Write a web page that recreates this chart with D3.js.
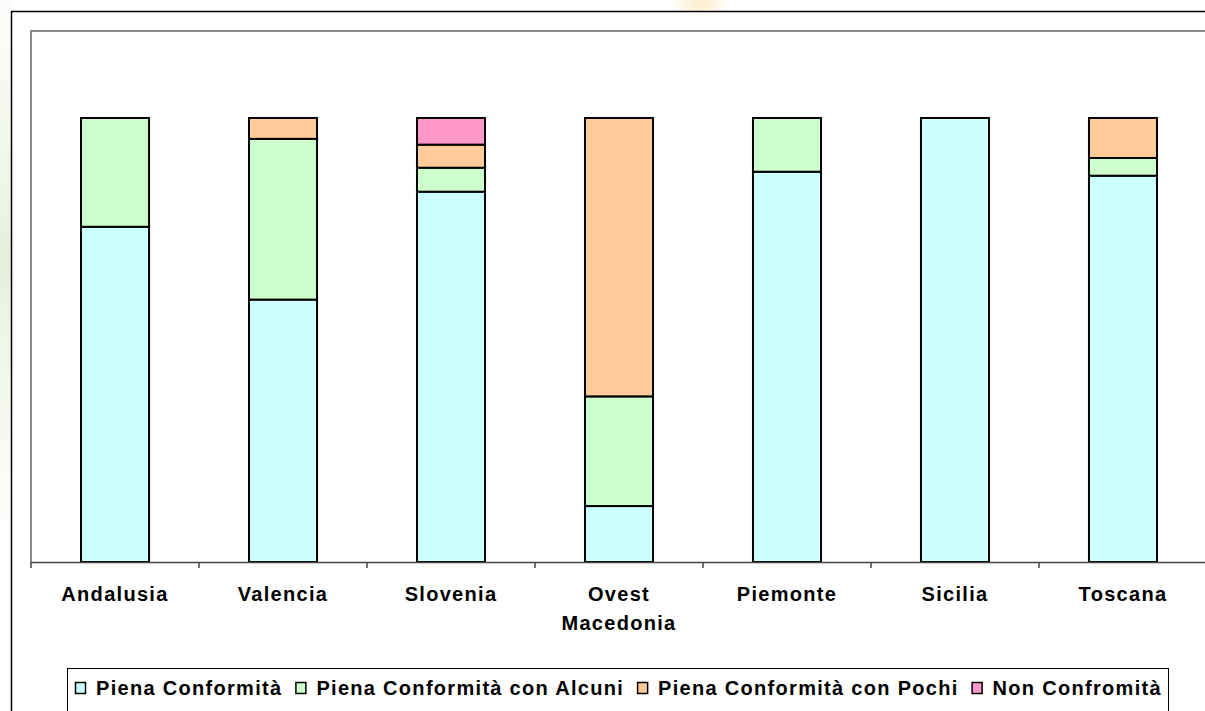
<!DOCTYPE html>
<html>
<head>
<meta charset="utf-8">
<script src="https://cdn.jsdelivr.net/npm/d3@7"></script>
<style>
  body { margin: 0; background: #fff; }
  text { font-family: "Liberation Sans", Arial, sans-serif; font-weight: bold; }
</style>
</head>
<body>
<div id="chart-area"></div>
<script>
// regioni e quote (frazione del totale)
const regions = ['Andalusia', 'Valencia', 'Slovenia', 'Ovest Macedonia', 'Piemonte', 'Sicilia', 'Toscana']
const seriesNames = ['Piena Conformità', 'Piena Conformità con Alcuni', 'Piena Conformità con Pochi', 'Non Confromità']
const piena   = [0.755, 0.591, 0.834, 0.126, 0.879, 1.000, 0.870]
const alcuni  = [0.245, 0.362, 0.054, 0.247, 0.121, 0.000, 0.040]
const pochi   = [0.000, 0.047, 0.052, 0.627, 0.000, 0.000, 0.090]
const nonConf = [0.000, 0.000, 0.060, 0.000, 0.000, 0.000, 0.000]
const colors = ['#CCFFFF', '#CCFFCC', '#FFCC99', '#FF99CC']

const W = 1205, H = 711
const plot = {left: 31, top: 31, right: 1207, bottom: 562}

const svg = d3.select('#chart-area').append('svg')
  .attr('width', W)
  .attr('height', H)

// faint background watermark
const defs = svg.append('defs')
const rg = defs.append('radialGradient').attr('id', 'blob')
rg.append('stop').attr('offset', '0%').attr('stop-color', '#ffd27a').attr('stop-opacity', 0.4)
rg.append('stop').attr('offset', '100%').attr('stop-color', '#ffd27a').attr('stop-opacity', 0)
const lg = defs.append('linearGradient').attr('id', 'side').attr('x1', 0).attr('x2', 0).attr('y1', 0).attr('y2', 1)
lg.append('stop').attr('offset', '0%').attr('stop-color', '#f1f6ea').attr('stop-opacity', 0.2)
lg.append('stop').attr('offset', '50%').attr('stop-color', '#e6f0da').attr('stop-opacity', 1)
lg.append('stop').attr('offset', '100%').attr('stop-color', '#f4f8ef').attr('stop-opacity', 0.3)
svg.append('rect').attr('x', 0).attr('y', 0).attr('width', 11).attr('height', 520).attr('fill', 'url(#side)')
svg.append('ellipse').attr('cx', 700).attr('cy', 4).attr('rx', 30).attr('ry', 16).attr('fill', 'url(#blob)')

// chart area
svg.append('rect')
  .attr('x', 11.5).attr('y', 11.5)
  .attr('width', W + 20).attr('height', H + 20)
  .attr('fill', '#fff')
  .attr('stroke', '#000')
  .attr('stroke-width', 1.5)

// plot area border (top + left)
svg.append('path')
  .attr('d', `M${plot.left},${plot.bottom}V${plot.top}H${W + 10}`)
  .attr('fill', 'none')
  .attr('stroke', '#8a8a8a')
  .attr('stroke-width', 2)

const x = d3.scaleBand()
  .domain(regions)
  .range([plot.left, plot.right])
  .paddingInner(0.595)
  .paddingOuter(0.2976)

const y = d3.scaleLinear()
  .domain([0, 1])
  .range([plot.bottom, 118])

const table = regions.map((r, i) => ({
  region: r,
  s0: piena[i], s1: alcuni[i], s2: pochi[i], s3: nonConf[i]
}))
const stack = d3.stack().keys(['s0', 's1', 's2', 's3'])(table)

const layers = svg.append('g').selectAll('g')
  .data(stack)
  .enter().append('g')
    .attr('fill', (d, i) => colors[i])

layers.selectAll('rect')
  .data(d => d.filter(p => p[1] - p[0] > 0))
  .enter().append('rect')
    .attr('x', d => x(d.data.region))
    .attr('y', d => y(d[1]))
    .attr('width', x.bandwidth())
    .attr('height', d => y(d[0]) - y(d[1]))
    .attr('stroke', '#000')
    .attr('stroke-width', 2)

// x axis
const step = x.step()
const xAxis = svg.append('g')
xAxis.append('line')
  .attr('x1', plot.left).attr('x2', W)
  .attr('y1', plot.bottom + 0.5).attr('y2', plot.bottom + 0.5)
  .attr('stroke', '#444').attr('stroke-width', 1.5)
xAxis.selectAll('.tick')
  .data(d3.range(regions.length + 1))
  .enter().append('line')
    .attr('x1', i => plot.left + i * step).attr('x2', i => plot.left + i * step)
    .attr('y1', plot.bottom).attr('y2', plot.bottom + 6)
    .attr('stroke', '#444').attr('stroke-width', 1.5)

const labels = xAxis.selectAll('.lbl')
  .data(regions)
  .enter().append('text')
    .attr('text-anchor', 'middle')
    .attr('font-size', 20)
    .attr('letter-spacing', 1.3)
    .attr('fill', '#000')
    .attr('y', 601)
labels.each(function (d) {
  const words = d.split(' ')
  const cx = x(d) + x.bandwidth() / 2
  d3.select(this).selectAll('tspan')
    .data(words)
    .enter().append('tspan')
      .attr('x', cx)
      .attr('dy', (w, i) => i === 0 ? 0 : 29)
      .text(w => w)
})

// legend
svg.append('rect')
  .attr('x', 67.5).attr('y', 668.5)
  .attr('width', 1101).attr('height', 50)
  .attr('fill', '#fff')
  .attr('stroke', '#000')
  .attr('stroke-width', 1)
const legend = svg.append('g')
let lx = 75
seriesNames.forEach((name, i) => {
  legend.append('rect')
    .attr('x', lx + 0.5).attr('y', 682.5)
    .attr('width', 10).attr('height', 11)
    .attr('fill', colors[i])
    .attr('stroke', '#000')
    .attr('stroke-width', 1.5)
  const t = legend.append('text')
    .attr('x', lx + 21).attr('y', 695)
    .attr('font-size', 20)
    .attr('letter-spacing', 1.3)
    .text(name)
  lx += 21 + t.node().getComputedTextLength() + 13
})
</script>
</body>
</html>
